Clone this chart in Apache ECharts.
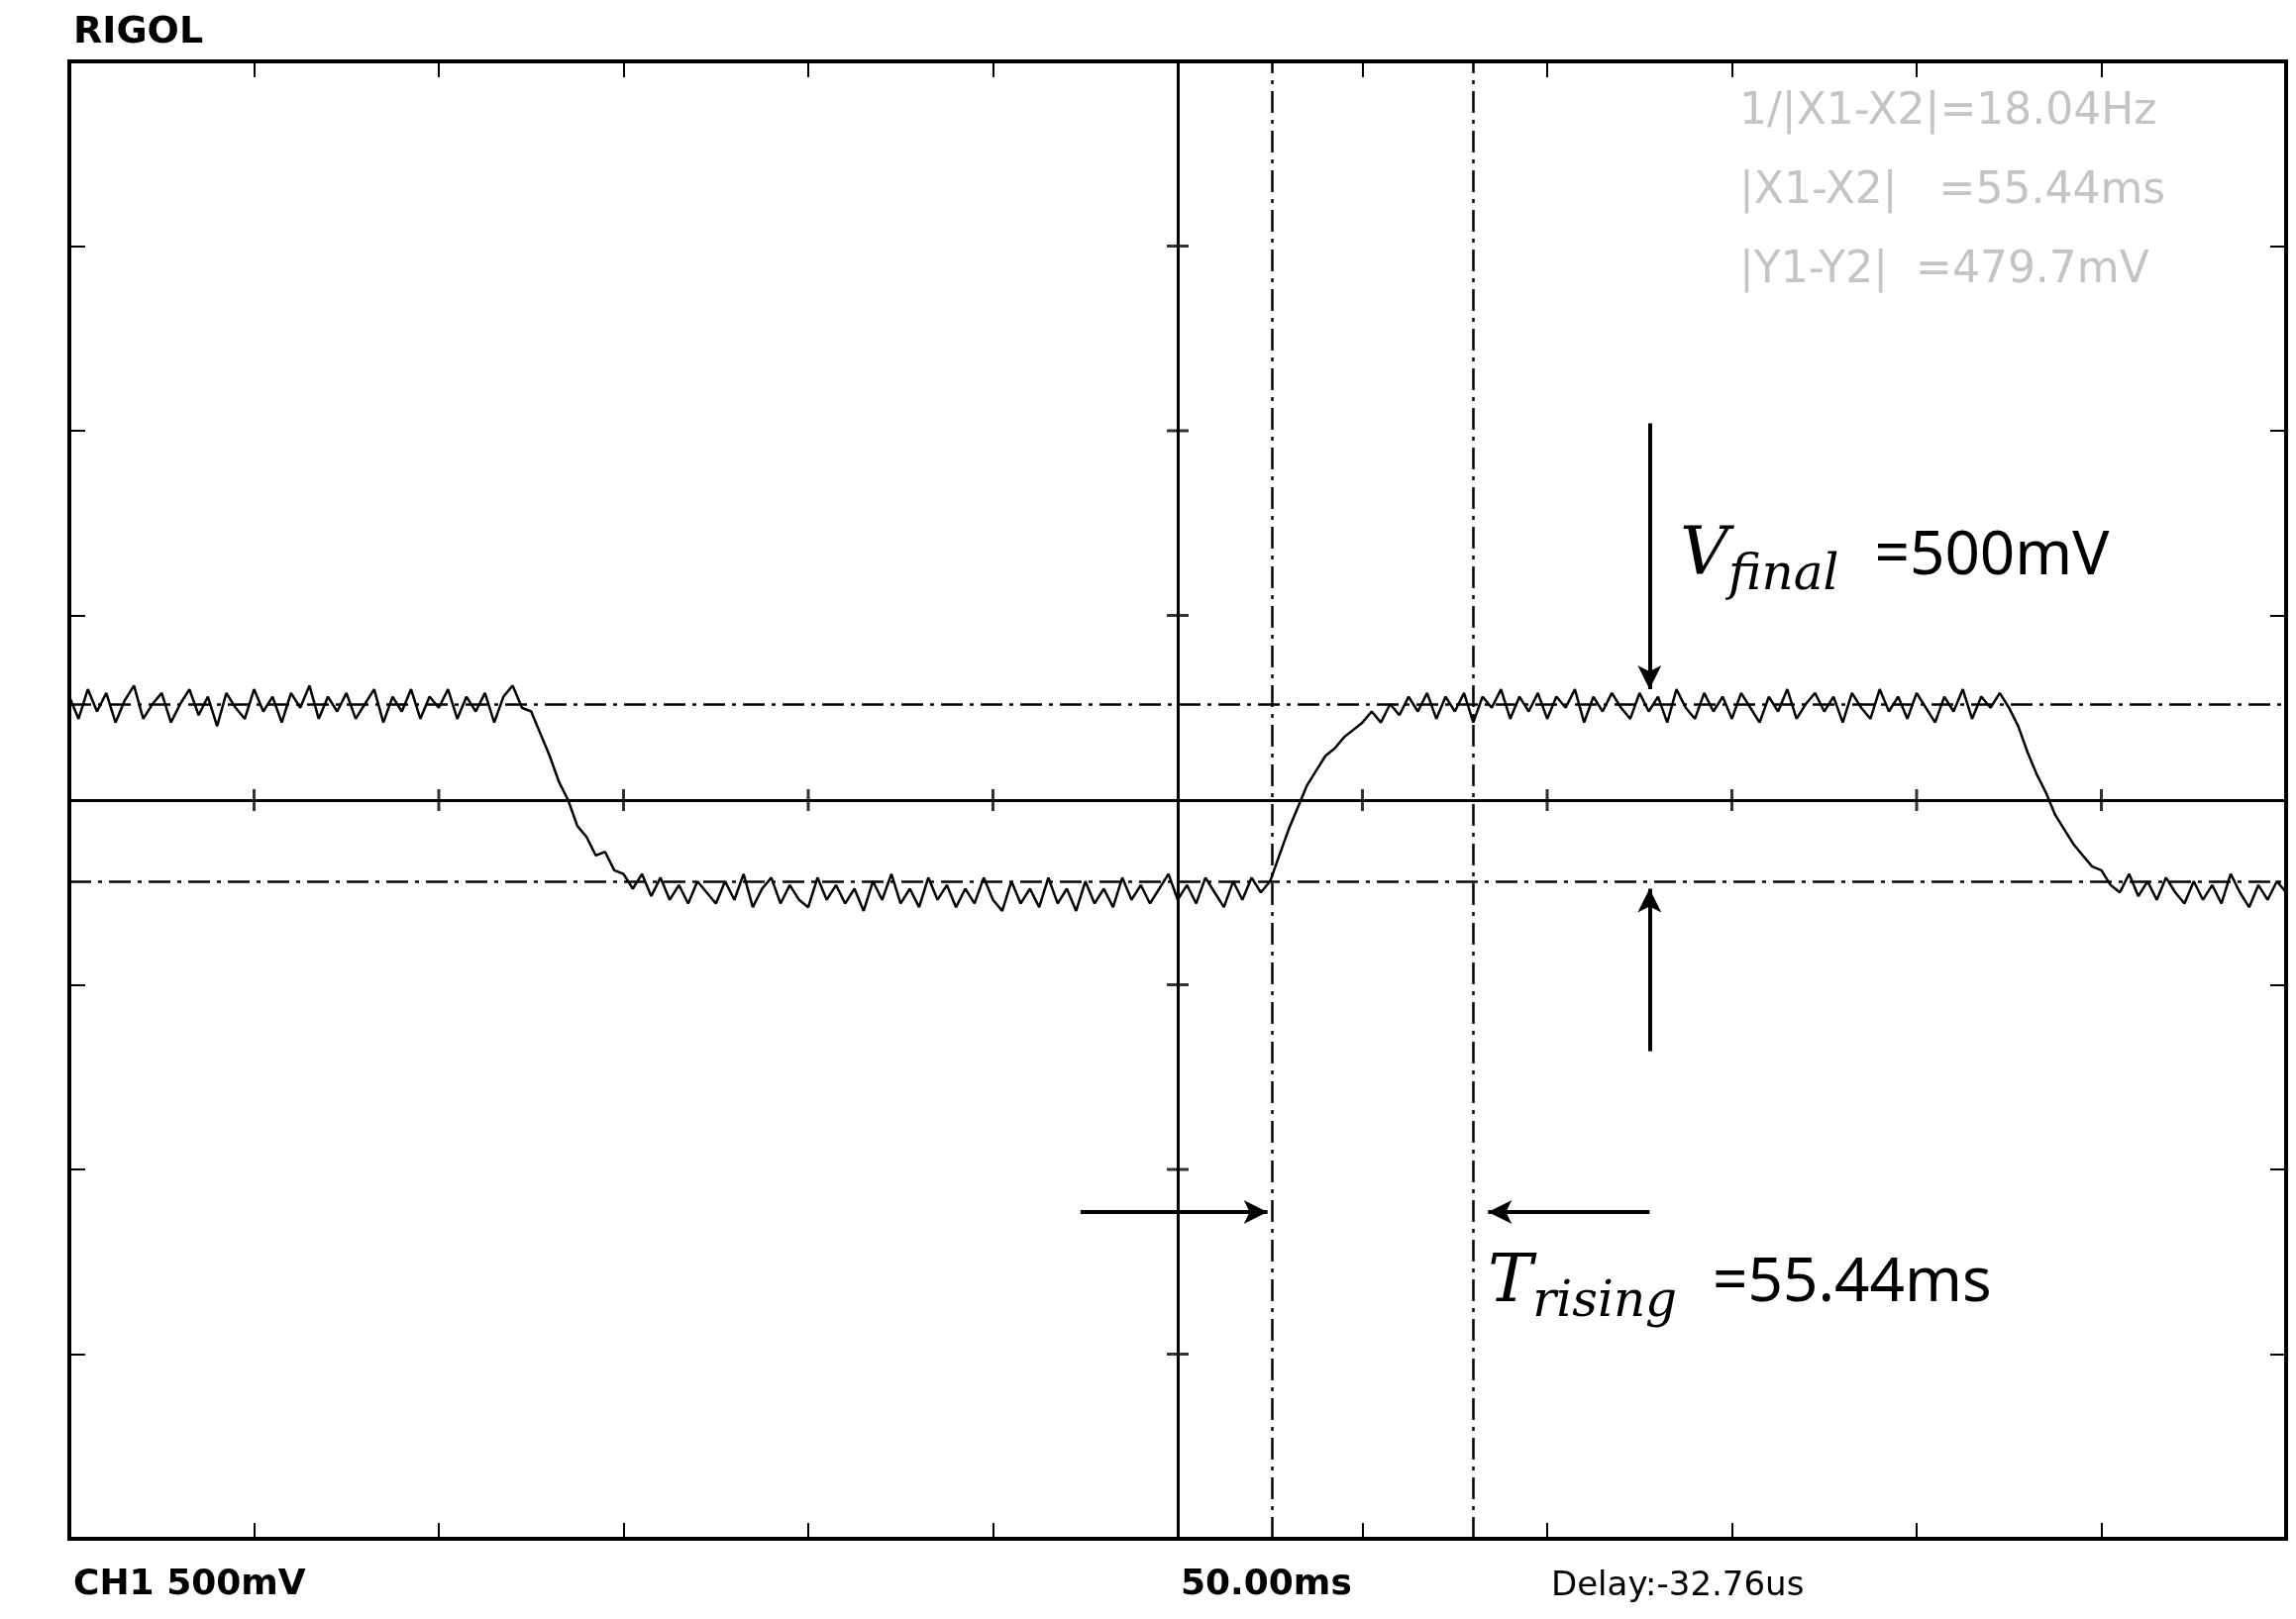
<!DOCTYPE html>
<html>
<head>
<meta charset="utf-8">
<script src="https://cdn.jsdelivr.net/npm/echarts@6/dist/echarts.min.js"></script>
<style>html,body{margin:0;padding:0;background:#fff}#main{width:2318px;height:1635px}</style>
</head>
<body>
<div id="main"></div>
<script>
// 采样时间起点与步长 (ms)
var tStart = -300, tStep = 2.5;
// CH1 电压 (V)，从屏幕读取
var ch1 = [
 0.28,0.22,0.30,0.24,0.29,0.21,0.27,0.31,0.22,0.26,
 0.29,0.21,0.26,0.30,0.23,0.28,0.20,0.29,0.25,0.22,
 0.30,0.24,0.28,0.21,0.29,0.25,0.31,0.22,0.28,0.24,
 0.29,0.22,0.26,0.30,0.21,0.28,0.24,0.30,0.22,0.28,
 0.25,0.30,0.22,0.28,0.24,0.29,0.21,0.28,0.31,0.25,
 0.24,0.18,0.12,0.05,0.00,-0.07,-0.10,-0.15,-0.14,-0.19,
 -0.20,-0.24,-0.20,-0.26,-0.21,-0.27,-0.23,-0.28,-0.22,-0.25,
 -0.28,-0.22,-0.27,-0.20,-0.29,-0.24,-0.21,-0.28,-0.23,-0.27,
 -0.29,-0.21,-0.27,-0.23,-0.28,-0.24,-0.30,-0.22,-0.27,-0.20,
 -0.28,-0.24,-0.29,-0.21,-0.27,-0.23,-0.29,-0.24,-0.28,-0.21,
 -0.27,-0.30,-0.22,-0.28,-0.24,-0.29,-0.21,-0.28,-0.24,-0.30,
 -0.22,-0.28,-0.24,-0.29,-0.21,-0.27,-0.23,-0.28,-0.24,-0.20,
 -0.27,-0.23,-0.28,-0.21,-0.25,-0.29,-0.22,-0.27,-0.21,-0.25,
 -0.22,-0.15,-0.08,-0.02,0.04,0.08,0.12,0.14,0.17,0.19,
 0.21,0.24,0.21,0.26,0.23,0.28,0.24,0.29,0.22,0.28,
 0.24,0.29,0.21,0.28,0.25,0.30,0.22,0.28,0.24,0.29,
 0.22,0.28,0.25,0.30,0.21,0.28,0.24,0.29,0.25,0.22,
 0.29,0.24,0.28,0.21,0.30,0.25,0.22,0.29,0.24,0.28,
 0.22,0.29,0.25,0.21,0.28,0.24,0.30,0.22,0.26,0.29,
 0.24,0.28,0.21,0.29,0.25,0.22,0.30,0.24,0.28,0.22,
 0.29,0.25,0.21,0.28,0.24,0.30,0.22,0.28,0.25,0.29,
 0.25,0.20,0.13,0.07,0.02,-0.04,-0.08,-0.12,-0.15,-0.18,
 -0.19,-0.23,-0.25,-0.20,-0.26,-0.22,-0.27,-0.21,-0.25,-0.28,
 -0.22,-0.27,-0.23,-0.28,-0.20,-0.25,-0.29,-0.23,-0.27,-0.22,
 -0.25
];
// 光标位置
var cursorX = [25.5, 80];
var cursorY = [0.26, -0.22];
var measureText = ['1/|X1-X2|=18.04Hz', '|X1-X2|   =55.44ms', '|Y1-Y2|  =479.7mV'];
// 中心刻度
var xTicks = [-250,-200,-150,-100,-50,50,100,150,200,250];
var yTicks = [-1.5,-1,-0.5,0.5,1,1.5];

var pts = [];
for (var i = 0; i < ch1.length; i++) pts.push([tStart + i * tStep, ch1[i]]);
var xTickPts = xTicks.map(function (t) { return [t, 0]; });
var yTickPts = yTicks.map(function (v) { return [0, v]; });

var dashDot = [22, 7, 4, 7];
var myChart = echarts.init(document.getElementById('main'));
var tick = {show:true, inside:true, length:16, lineStyle:{color:'#000', width:2}};
var axisBase = {type:'value', min:-300, max:300, interval:50, splitLine:{show:false}, axisLabel:{show:false}};
var yBase = {type:'value', min:-2, max:2, interval:0.5, splitLine:{show:false}, axisLabel:{show:false}};
var option = {
    animation:false,
    backgroundColor:'#fff',
    grid:{left:70, right:10, top:62, bottom:81, show:true, borderColor:'#000', borderWidth:4},
    xAxis:[
        Object.assign({}, axisBase, {position:'bottom', axisLine:{onZero:false, lineStyle:{color:'#000', width:4}}, axisTick:tick}),
        Object.assign({}, axisBase, {position:'top', axisLine:{onZero:false, lineStyle:{color:'#000', width:4}}, axisTick:tick})
    ],
    yAxis:[
        Object.assign({}, yBase, {position:'left', axisLine:{onZero:false, lineStyle:{color:'#000', width:4}}, axisTick:tick}),
        Object.assign({}, yBase, {position:'right', axisLine:{onZero:false, lineStyle:{color:'#000', width:4}}, axisTick:tick})
    ],
    graphic:[
        {type:'text', left:74, top:14, style:{text:'RIGOL', font:'bold 38px "DejaVu Sans"', fill:'#000'}},
        {type:'text', left:74, top:1583, style:{text:'CH1 500mV', font:'bold 36px "DejaVu Sans"', fill:'#000'}},
        {type:'text', left:1192, top:1583, style:{text:'50.00ms', font:'bold 36px "DejaVu Sans"', fill:'#000'}},
        {type:'text', left:1566, top:1585, style:{text:'Delay:-32.76us', font:'34px "DejaVu Sans"', fill:'#000'}},
        {type:'text', left:1756, top:92, style:{text:measureText[0], font:'44px "DejaVu Sans"', fill:'#c4c4c4'}},
        {type:'text', left:1756, top:172, style:{text:measureText[1], font:'44px "DejaVu Sans"', fill:'#c4c4c4'}},
        {type:'text', left:1756, top:252, style:{text:measureText[2], font:'44px "DejaVu Sans"', fill:'#c4c4c4'}},
        {type:'text', left:1696, top:528, style:{
            text:'{v|V}{s|final}{n|=500mV}',
            rich:{v:{font:'italic 68px "DejaVu Serif"', fill:'#000'},
                  s:{font:'italic 50px "DejaVu Serif"', fill:'#000', padding:[40,36,0,0]},
                  n:{font:'62px "Noto Sans"', fill:'#000'}}}},
        {type:'text', left:1502, top:1262, style:{
            text:'{v|T}{s|rising}{n|=55.44ms}',
            rich:{v:{font:'italic 68px "DejaVu Serif"', fill:'#000'},
                  s:{font:'italic 50px "DejaVu Serif"', fill:'#000', padding:[40,36,0,0]},
                  n:{font:'62px "Noto Sans"', fill:'#000'}}}}
    ],
    series:[{
        type:'line', xAxisIndex:0, yAxisIndex:0, data:pts, showSymbol:false,
        lineStyle:{color:'#000', width:2.5},
        markLine:{
            silent:true, symbol:'none', label:{show:false},
            lineStyle:{color:'#000', width:2.5, type:dashDot},
            data:[
                {xAxis:0, lineStyle:{type:'solid', width:3}},
                {yAxis:0, lineStyle:{type:'solid', width:3}},
                {xAxis:cursorX[0]}, {xAxis:cursorX[1]},
                {yAxis:cursorY[0]}, {yAxis:cursorY[1]},
                [{coord:[127.7,1.02], symbol:'none', lineStyle:{type:'solid', width:4}}, {coord:[127.7,0.3], symbol:'arrow', symbolSize:[18,24]}],
                [{coord:[127.7,-0.68], symbol:'none', lineStyle:{type:'solid', width:4}}, {coord:[127.7,-0.24], symbol:'arrow', symbolSize:[18,24]}],
                [{coord:[-26.3,-1.115], symbol:'none', lineStyle:{type:'solid', width:4}}, {coord:[24.3,-1.115], symbol:'arrow', symbolSize:[18,24]}],
                [{coord:[127.7,-1.115], symbol:'none', lineStyle:{type:'solid', width:4}}, {coord:[84,-1.115], symbol:'arrow', symbolSize:[18,24]}]
            ]
        }
    }, {
        type:'scatter', data:xTickPts, symbol:'rect', symbolSize:[3,22], silent:true,
        itemStyle:{color:'#000'}
    }, {
        type:'scatter', data:yTickPts, symbol:'rect', symbolSize:[22,3], silent:true,
        itemStyle:{color:'#000'}
    }]
};
myChart.setOption(option);
</script>
</body>
</html>
